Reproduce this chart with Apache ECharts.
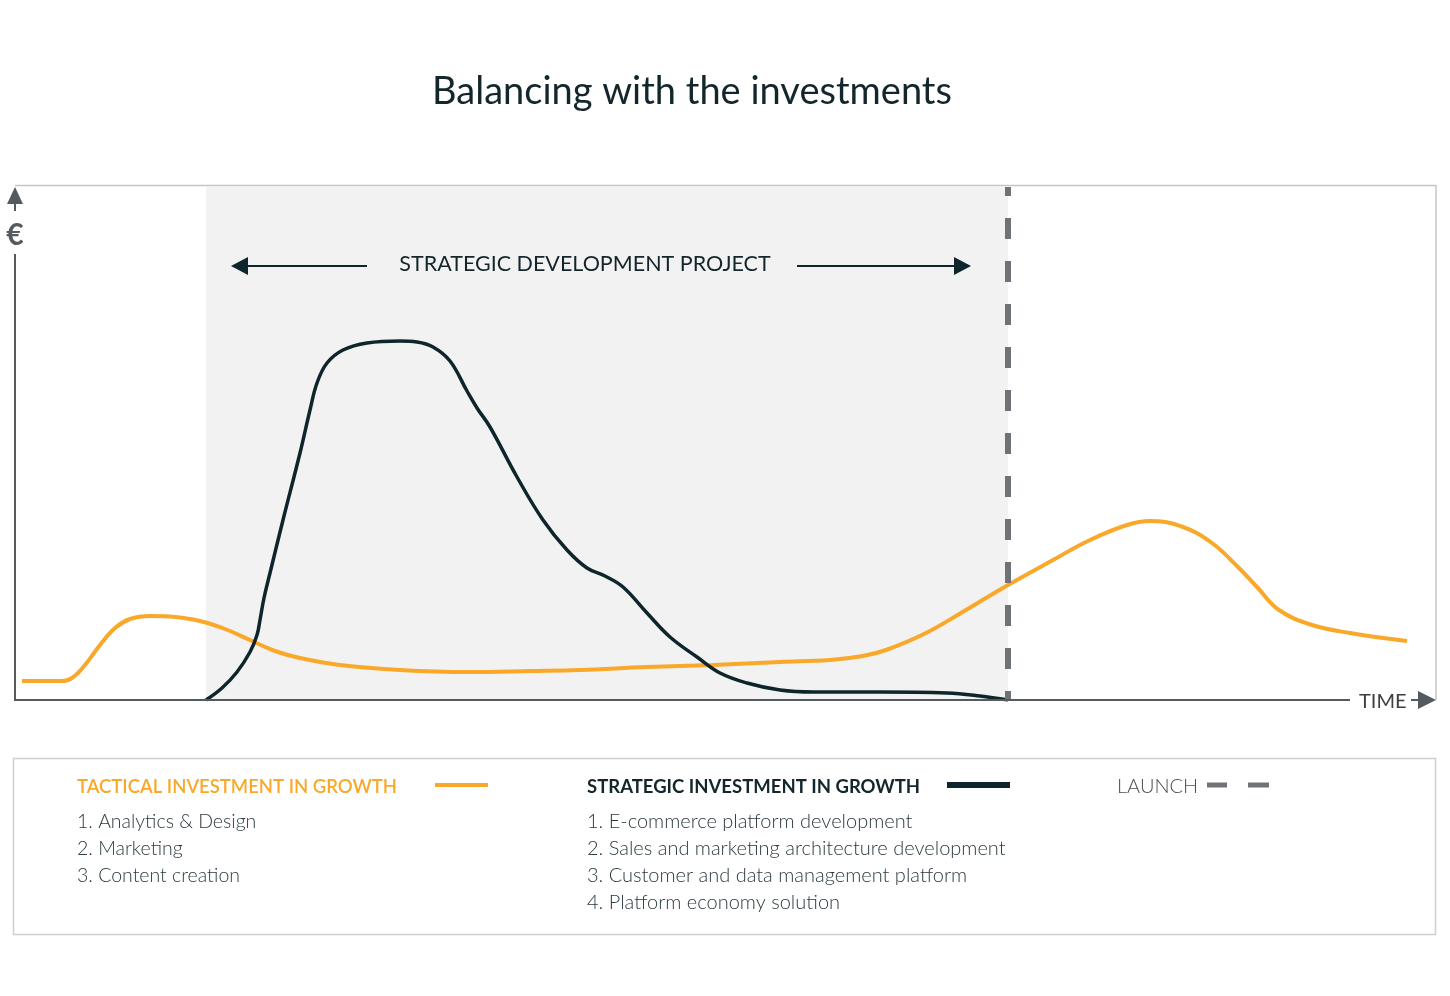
<!DOCTYPE html>
<html>
<head>
<meta charset="utf-8">
<script src="https://cdn.jsdelivr.net/npm/echarts@6/dist/echarts.min.js"></script>
<style>
html,body{margin:0;padding:0;background:#fff;}
#chart{width:1450px;height:996px;}
</style>
</head>
<body>
<div id="chart"></div>
<script>
// ---- data (time units along the x axis, value units up the y axis) ----
const tacticalTime  = [7,47,57,70,85,100,115,135,160,185,210,235,260,285,325,385,455,515,565,632,698,765,815,848,871,909,946,993,1038,1075,1112,1135,1168,1197,1223,1242,1264,1297,1335,1392];
const tacticalValue = [19,19,22,35,55,72,81,84,83,79,71,60,49,42,35,30,28,29,30,33,35,38,40,44,50,66,87,115,140,160,175,179,173,157,133,113,90,75,67,59];

const strategicTime  = [191,207,222,235,242,245,249,255,268,285,295,302,312,328,352,385,402,418,435,452,462,475,502,528,552,572,590,608,632,655,682,705,732,765,798,865,932,965,993];
const strategicValue = [0,12,28,48,65,80,102,127,180,247,290,317,337,350,357,359,358,353,339,309,292,273,223,180,150,132,124,113,87,63,43,27,17,10,8,8,7,4,0];

const projectStart = 191;
const launchTime = 993;
const timeMax = 1421;
const valueMax = 515;

const titleText = 'Balancing with the investments';
const projectLabel = 'STRATEGIC DEVELOPMENT PROJECT';
const tacticalTitle = 'TACTICAL INVESTMENT IN GROWTH';
const tacticalItems = ['1. Analytics & Design', '2. Marketing', '3. Content creation'];
const strategicTitle = 'STRATEGIC INVESTMENT IN GROWTH';
const strategicItems = ['1. E-commerce platform development', '2. Sales and marketing architecture development', '3. Customer and data management platform', '4. Platform economy solution'];
const launchLabel = 'LAUNCH';
const yAxisLabel = '€';
const xAxisLabel = 'TIME';

// ---- styling ----
const ORANGE = '#F9A82A';
const DARK = '#0E262B';
const GRAY = '#555a5e';
const FONT = 'Lato, "Open Sans", sans-serif';

const zip = (a, b) => a.map((v, i) => [v, b[i]]);

const chart = echarts.init(document.getElementById('chart'), null, {renderer: 'canvas'});

const G = [];
function line(x1, y1, x2, y2, color, w) {
  G.push({type: 'line', z: 100, shape: {x1, y1, x2, y2}, style: {stroke: color, lineWidth: w}});
}
function tri(points, color) {
  G.push({type: 'polygon', z: 100, shape: {points}, style: {fill: color}});
}
function text(x, y, t, o) {
  G.push({type: 'text', z: 100, x, y, style: Object.assign({text: t, font: '20px ' + FONT, fill: '#2b3a3f', textAlign: 'left', textVerticalAlign: 'middle'}, o)});
}

// title
text(692, 92, titleText, {font: '38px ' + FONT, fill: '#13262b', textAlign: 'center'});

// plot frame (top + right)
line(15, 185.5, 1436, 185.5, '#c4c4c4', 1.5);
line(1436, 185, 1436, 700, '#c4c4c4', 1.5);

// y axis
line(15, 254, 15, 701, GRAY, 2);
line(15, 200, 15, 211, GRAY, 2);
tri([[7, 204], [23, 204], [15, 187]], GRAY);
text(15, 235, yAxisLabel, {font: 'bold 30px ' + FONT, fill: GRAY, textAlign: 'center'});

// x axis
line(14, 700, 1350, 700, GRAY, 2);
text(1359, 702, xAxisLabel, {font: '20px ' + FONT, fill: '#3c4043'});
line(1411, 700, 1420, 700, GRAY, 2);
tri([[1418, 691], [1418, 709], [1436, 700]], GRAY);

// project header arrows
tri([[231, 266], [248, 257], [248, 275]], DARK);
line(245, 266, 367, 266, DARK, 2);
text(585, 264, projectLabel, {font: '21.5px ' + FONT, fill: '#13262b', textAlign: 'center'});
line(797, 266, 957, 266, DARK, 2);
tri([[954, 257], [954, 275], [971, 266]], DARK);

// legend box
G.push({type: 'rect', z: 100, shape: {x: 13.5, y: 758.5, width: 1422, height: 176}, style: {fill: 'none', stroke: '#d0d0d0', lineWidth: 1.5}});
text(77, 787, tacticalTitle, {font: '600 18.5px ' + FONT, fill: ORANGE});
line(435, 785, 488, 785, ORANGE, 4);
tacticalItems.forEach((t, i) => text(77, 822 + 27 * i, t, {font: '300 19.5px ' + FONT}));
text(587, 787, strategicTitle, {font: 'bold 18.5px ' + FONT, fill: '#13262b'});
line(947, 785, 1010, 785, DARK, 6);
strategicItems.forEach((t, i) => text(587, 822 + 27 * i, t, {font: '300 20px ' + FONT}));
text(1117, 787, launchLabel, {font: '300 20px ' + FONT, fill: '#4a4f52'});
line(1207, 785, 1227, 785, '#6f7276', 5);
line(1248, 785, 1269, 785, '#6f7276', 5);

chart.setOption({
  animation: false,
  backgroundColor: '#fff',
  grid: {left: 15, right: 14, top: 185, bottom: 296, show: false},
  xAxis: {type: 'value', min: 0, max: timeMax, show: false},
  yAxis: {type: 'value', min: 0, max: valueMax, show: false},
  graphic: G,
  series: [
    {
      name: tacticalTitle,
      type: 'line',
      data: zip(tacticalTime, tacticalValue),
      smooth: 0.4,
      showSymbol: false,
      lineStyle: {color: ORANGE, width: 4},
      z: 3,
      markArea: {
        silent: true,
        itemStyle: {color: '#f2f2f2'},
        data: [[{xAxis: projectStart, yAxis: 0}, {xAxis: launchTime, yAxis: valueMax - 2}]]
      },
      markLine: {
        silent: true,
        symbol: 'none',
        label: {show: false},
        lineStyle: {color: '#6f7276', width: 6, type: [21, 22], dashOffset: 12},
        data: [[{coord: [launchTime, 0]}, {coord: [launchTime, valueMax - 2]}]]
      }
    },
    {
      name: strategicTitle,
      type: 'line',
      data: zip(strategicTime, strategicValue),
      smooth: 0.4,
      showSymbol: false,
      lineStyle: {color: DARK, width: 3.5},
      z: 4
    }
  ]
});
</script>
</body>
</html>
